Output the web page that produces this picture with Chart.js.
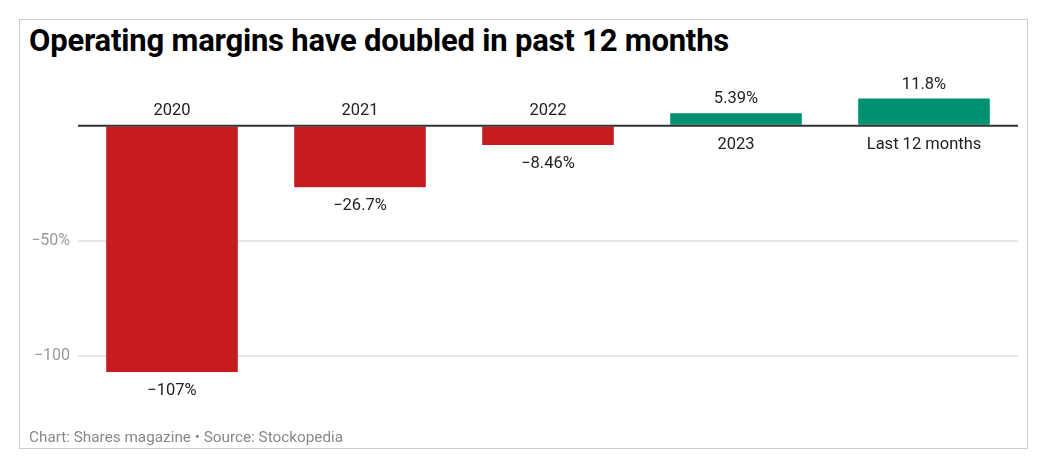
<!DOCTYPE html>
<html>
<head>
<meta charset="utf-8">
<script src="https://cdn.jsdelivr.net/npm/chart.js@4"></script>
<style>
  html, body { margin: 0; padding: 0; background: #fff; }
  body { width: 1052px; height: 469px; position: relative; overflow: hidden; font-family: Roboto, sans-serif; }
  .frame { position: absolute; left: 19px; top: 19px; width: 1009px; height: 430px; border: 1px solid #cccccc; box-sizing: border-box; }
  .title { position: absolute; left: 29px; top: 22px; font-size: 31px; font-weight: 700; color: #000; letter-spacing: -0.2px; }
  .footer { position: absolute; left: 29px; top: 428px; font-size: 15.3px; color: #888; }
  .chart-box { position: absolute; left: 0; top: 0; width: 1052px; height: 469px; }
</style>
</head>
<body>
<div class="frame"></div>
<div class="title">Operating margins have doubled in past 12 months</div>
<div class="chart-box"><canvas id="c"></canvas></div>
<div class="footer">Chart: Shares magazine • Source: Stockopedia</div>
<script>
const categories = ['2020', '2021', '2022', '2023', 'Last 12 months'];
const margins = [-107, -26.7, -8.46, 5.39, 11.8];
const tickValues = [-100, -50, 0];
const tickLabels = { '-100': '−100', '-50': '−50%', '0': '' };

const RED = '#c61c1e';
const GREEN = '#009173';

function fmt(v) {
  return v.toPrecision(3).replace('-', '−') + '%';
}

const barLabels = {
  id: 'barLabels',
  afterDatasetsDraw(chart) {
    const ctx = chart.ctx;
    const zero = chart.scales.y.getPixelForValue(0);
    const meta = chart.getDatasetMeta(0);
    ctx.save();
    ctx.font = '16.5px Roboto, sans-serif';
    ctx.fillStyle = '#222';
    ctx.textAlign = 'center';
    ctx.textBaseline = 'middle';
    meta.data.forEach((bar, i) => {
      const v = margins[i];
      if (v < 0) {
        ctx.fillText(categories[i], bar.x, zero - 15);
        ctx.fillText(fmt(v), bar.x, bar.y + 19);
      } else {
        ctx.fillText(fmt(v), bar.x, bar.y - 14);
        ctx.fillText(categories[i], bar.x, zero + 19);
      }
    });
    // zero line on top
    ctx.strokeStyle = '#333';
    ctx.lineWidth = 2;
    ctx.beginPath();
    ctx.moveTo(chart.chartArea.left, zero);
    ctx.lineTo(chart.chartArea.right, zero);
    ctx.stroke();
    ctx.restore();
  }
};

new Chart(document.getElementById('c'), {
  type: 'bar',
  data: {
    labels: categories,
    datasets: [{
      data: margins,
      backgroundColor: margins.map(v => v < 0 ? RED : GREEN),
      borderWidth: 0,
      categoryPercentage: 0.7,
      barPercentage: 1
    }]
  },
  options: {
    responsive: true,
    maintainAspectRatio: false,
    animation: false,
    layout: { padding: { left: 0, right: 34, top: 98, bottom: 67 } },
    scales: {
      x: { display: false },
      y: {
        min: -120,
        max: 12,
        afterFit(scale) { scale.width = 78; },
        afterBuildTicks(scale) { scale.ticks = tickValues.map(v => ({ value: v })); },
        border: { display: false },
        grid: { color: '#e6e6e6', lineWidth: 2, drawTicks: false },
        ticks: {
          padding: 8,
          color: '#999',
          font: { family: 'Roboto, sans-serif', size: 16 },
          callback: v => tickLabels[String(v)]
        }
      }
    },
    plugins: {
      legend: { display: false },
      tooltip: { enabled: false }
    }
  },
  plugins: [barLabels]
});
</script>
</body>
</html>
